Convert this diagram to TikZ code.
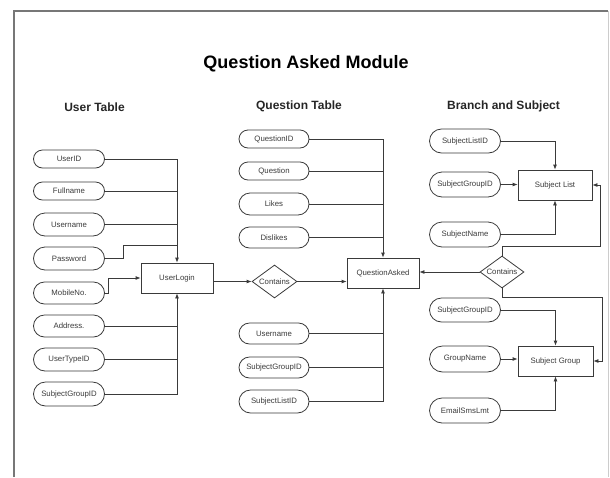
\documentclass[tikz,border=0pt]{standalone}
\usepackage{fontspec}
\setmainfont{Liberation Sans}
\usetikzlibrary{arrows.meta,shapes.misc,shapes.geometric}

\definecolor{ink}{HTML}{3A3A3A}
\definecolor{frame}{HTML}{777777}

\tikzset{
  attr/.style={rounded rectangle, draw=ink, line width=0.8pt, minimum width=73pt,
    minimum height=22pt, inner sep=1pt, text=ink, font=\fontsize{7.8}{9}\selectfont},
  entity/.style={rectangle, draw=ink, line width=0.8pt, minimum width=73pt,
    minimum height=30pt, inner sep=1pt, text=ink, font=\fontsize{7.8}{9}\selectfont},
  relation/.style={diamond, draw=ink, line width=0.8pt, aspect=1.4, inner sep=0pt,
    minimum width=45pt, minimum height=33pt, text=ink, font=\fontsize{7.8}{9}\selectfont},
  link/.style={draw=ink, line width=0.8pt},
  flow/.style={link, -{Latex[length=5pt,width=4pt]}},
  heading/.style={font=\bfseries\fontsize{12}{14}\selectfont, text=black!85},
}

\begin{document}
\begin{tikzpicture}[x=1pt,y=-1pt]
\useasboundingbox (0,0) rectangle (610,477);

% page frame
\draw[frame, line width=1.4pt] (14,477) -- (14,11) -- (608,11);
\draw[black!20, line width=0.8pt] (608,11) -- (608,477);

% titles
\node[font=\bfseries\fontsize{18}{21}\selectfont] (title) at (306,64) {Question Asked Module};
\node[heading] (h1) at (94.5,107) {User Table};
\node[heading] (h2) at (299,106) {Question Table};
\node[heading] (h3) at (503.5,106) {Branch and Subject};

% ---------- user table ----------
\node[attr, minimum height=18pt] (uid)  at (69,159)   {UserID};
\node[attr, minimum height=18pt] (ufn)  at (69,191)   {Fullname};
\node[attr, minimum height=23pt] (uun)  at (69,224.5) {Username};
\node[attr, minimum height=23pt] (upw)  at (69,258.5) {Password};
\node[attr]                      (umob) at (69,293)   {MobileNo.};
\node[attr]                      (uadr) at (69,326)   {Address.};
\node[attr, minimum height=23pt] (utid) at (69,359.5) {UserTypeID};
\node[attr, minimum height=24pt] (usg)  at (69,394)   {SubjectGroupID};

\node[entity, minimum width=72pt] (ul) at (177,278) {UserLogin};

\coordinate (pwbend) at (123,245);
\draw[flow] (uid.east) -| (ul.north);
\draw[link] (ufn.east) -- (ufn.east -| ul.north);
\draw[link] (uun.east) -- (uun.east -| ul.north);
\draw[link] (upw.east) -| (pwbend) -- (pwbend -| ul.north);
\draw[flow] (umob.east) -- ++(3,0) |- (ul.west);
\draw[flow] (usg.east) -| (ul.south);
\draw[link] (uadr.east) -- (uadr.east -| ul.south);
\draw[link] (utid.east) -- (utid.east -| ul.south);

% ---------- question table ----------
\node[attr, minimum width=72pt, minimum height=18pt] (qid)  at (274,139)   {QuestionID};
\node[attr, minimum width=72pt, minimum height=18pt] (qq)   at (274,171)   {Question};
\node[attr, minimum width=72pt]                      (qlk)  at (274,204)   {Likes};
\node[attr, minimum width=72pt, minimum height=21pt] (qdl)  at (274,237.5) {Dislikes};
\node[attr, minimum width=72pt, minimum height=21pt] (qun)  at (274,333.5) {Username};
\node[attr, minimum width=72pt, minimum height=21pt] (qsg)  at (274,367.5) {SubjectGroupID};
\node[attr, minimum width=72pt, minimum height=23pt] (qsl)  at (274,401.5) {SubjectListID};

\node[entity, minimum width=72pt] (qa) at (383,273) {QuestionAsked};
\node[relation] (c1) at (274.5,281.5) {Contains};

\draw[flow] (ul.east |- c1.west) -- (c1.west);
\draw[flow] (c1.east) -- (qa.west |- c1.east);

\draw[flow] (qid.east) -| (qa.north);
\draw[link] (qq.east)  -- (qq.east  -| qa.north);
\draw[link] (qlk.east) -- (qlk.east -| qa.north);
\draw[link] (qdl.east) -- (qdl.east -| qa.north);
\draw[flow] (qsl.east) -| (qa.south);
\draw[link] (qun.east) -- (qun.east -| qa.south);
\draw[link] (qsg.east) -- (qsg.east -| qa.south);

% ---------- branch and subject ----------
\node[attr, minimum height=24pt] (bsl)  at (465,141)   {SubjectListID};
\node[attr, minimum height=25pt] (bsg)  at (465,184.5) {SubjectGroupID};
\node[attr, minimum height=25pt] (bsn)  at (465,234.5) {SubjectName};
\node[attr, minimum height=24pt] (bsg2) at (465,310)   {SubjectGroupID};
\node[attr, minimum height=26pt] (bgn)  at (465,359)   {GroupName};
\node[attr, minimum height=25pt] (bem)  at (465,410.5) {EmailSmsLmt};

\node[entity, minimum width=74pt] (sl) at (555,185) {Subject List};
\node[entity, minimum width=75pt] (sg) at (555.5,361) {Subject Group};
\node[relation, minimum width=44pt, minimum height=32pt] (c2) at (502,272) {Contains};

\draw[flow] (bsl.east) -| (sl.north);
\draw[flow] (bsg.east) -- (bsg.east -| sl.west);
\draw[flow] (bsn.east) -| (sl.south);
\draw[flow] (bsg2.east) -| (sg.north);
\draw[flow] (bgn.east) -- (bgn.east -| sg.west);
\draw[flow] (bem.east) -| (sg.south);

\coordinate (up) at (600,246);
\coordinate (dn) at (602,297);
\draw[flow] (c2.west) -- (qa.east |- c2.west);
\draw[flow] (c2.north) |- (up) |- (sl.east);
\draw[flow] (c2.south) |- (dn) |- (sg.east);
\end{tikzpicture}
\end{document}
